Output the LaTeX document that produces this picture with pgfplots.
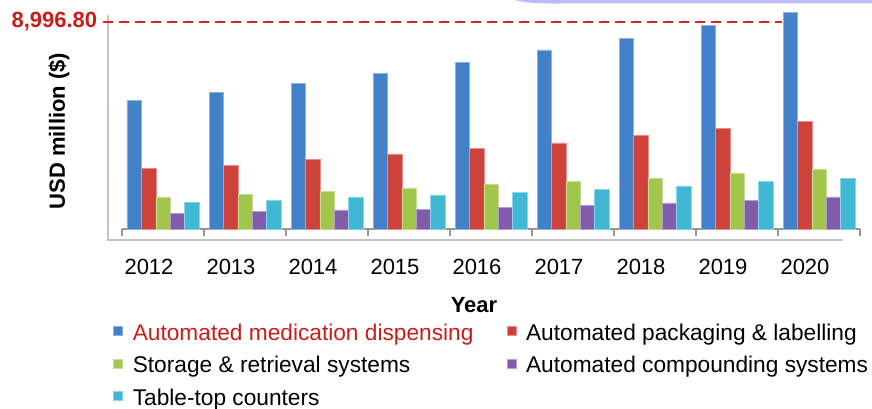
\documentclass[border=0pt]{standalone}
\usepackage{pgfplots}
\pgfplotsset{compat=1.18}
\usepackage{fontspec}
\setmainfont{Liberation Sans}
\definecolor{cblue}{RGB}{66,128,201}
\definecolor{cred}{RGB}{206,66,60}
\definecolor{cgreen}{RGB}{162,197,76}
\definecolor{cpurple}{RGB}{128,92,170}
\definecolor{ccyan}{RGB}{64,184,212}
\definecolor{legred}{RGB}{200,30,25}
\definecolor{dashred}{RGB}{226,32,32}
\definecolor{axgray}{RGB}{150,150,150}
\definecolor{floorgray}{RGB}{195,195,195}
\definecolor{lav}{RGB}{188,188,246}
\begin{document}
\begin{tikzpicture}[x=1pt,y=1pt]
\path[use as bounding box] (0,0) rectangle (872,409);
% decorative band at top
\fill[lav] (515,409) .. controls (530,405) and (545,405.5) .. (565,405.5) -- (872,405.5) -- (872,409) -- cycle;
% 3D floor / wall lines
\draw[floorgray, line width=1.2pt] (108,394) -- (108,169) -- (843,169);
\begin{axis}[
  at={(122pt,180pt)}, anchor=south west,
  scale only axis, width=738pt, height=220.88pt,
  xmin=-0.5, xmax=8.5, ymin=0, ymax=9600,
  clip=false,
  axis x line*=bottom, axis y line=none,
  x axis line style={axgray, line width=1.2pt, -},
  ybar=0pt, bar width=14.4pt,
  xtick={0,...,8},
  xticklabels={2012,2013,2014,2015,2016,2017,2018,2019,2020},
  major x tick style={draw=none},
  minor xtick={-0.5,0.5,...,8.5},
  minor x tick style={axgray, line width=1.2pt},
  minor tick length=7pt,
  tick align=outside,
  xtick pos=bottom,
  ytick=\empty,
  /pgf/number format/assume math mode=true,
  xticklabel style={font=\fontsize{22}{26}\selectfont, anchor=base, xshift=-14pt, yshift=-41pt},
  legend style={
    at={(axis description cs:-0.01626,-0.421)}, anchor=north west,
    draw=none, fill=none,
    font=\fontsize{22.7}{26}\selectfont,
    nodes={inner sep=0pt, text height=16pt, text depth=5pt},
    row sep=11.5pt,
    /tikz/every odd column/.append style={column sep=10pt},
    /tikz/every even column/.append style={column sep=33pt},
  },
  legend columns=2,
  legend cell align=left,
  legend image code/.code={\fill[#1] (0pt,-1pt) rectangle (9pt,8pt);},
]
\addplot[fill=cblue, draw=cblue!60!white, line width=0.6pt] coordinates {(0,5606) (1,5954) (2,6345) (3,6780) (4,7258) (5,7780) (6,8301) (7,8866) (8,9431)};
\addlegendentry{\textcolor{legred}{Automated medication dispensing}}
\addplot[fill=cred, draw=cred!60!white, line width=0.6pt] coordinates {(0,2651) (1,2781) (2,3042) (3,3260) (4,3520) (5,3738) (6,4085) (7,4389) (8,4694)};
\addlegendentry{Automated packaging \& labelling}
\addplot[fill=cgreen, draw=cgreen!60!white, line width=0.6pt] coordinates {(0,1391) (1,1521) (2,1651) (3,1782) (4,1956) (5,2086) (6,2216) (7,2434) (8,2608)};
\addlegendentry{Storage \& retrieval systems}
\addplot[fill=cpurple, draw=cpurple!60!white, line width=0.6pt] coordinates {(0,695) (1,782) (2,826) (3,869) (4,956) (5,1043) (6,1130) (7,1260) (8,1391)};
\addlegendentry{Automated compounding systems}
\addplot[fill=ccyan, draw=ccyan!60!white, line width=0.6pt] coordinates {(0,1173) (1,1260) (2,1391) (3,1478) (4,1608) (5,1738) (6,1869) (7,2086) (8,2216)};
\addlegendentry{Table-top counters}
\draw[dashred, line width=1.8pt, dash pattern=on 10pt off 6pt] (axis cs:-0.732,8996.8) -- (axis cs:7.549,8996.8);
\node[anchor=east, text=legred, font=\bfseries\fontsize{22}{26}\selectfont, inner sep=0pt] at (axis cs:-0.8,8996.8) {8,996.80};
\end{axis}
\node[rotate=90, font=\bfseries\fontsize{22}{26}\selectfont] at (59,278) {USD million (\$)};
\node[font=\bfseries\fontsize{22}{26}\selectfont] at (474,104) {Year};
\end{tikzpicture}
\end{document}
